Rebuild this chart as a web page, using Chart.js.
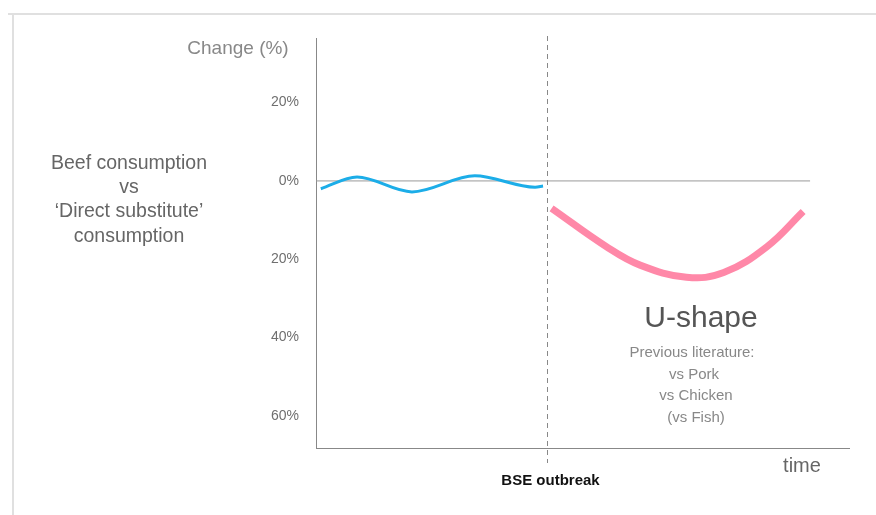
<!DOCTYPE html>
<html>
<head>
<meta charset="utf-8">
<script src="https://cdn.jsdelivr.net/npm/chart.js"></script>
<style>
  html, body { margin: 0; padding: 0; background: #fff; }
  #wrap { width: 876px; height: 515px; position: relative; }
</style>
</head>
<body>
<div id="wrap"><canvas id="myChart"></canvas></div>
<script>
// time runs 0..100 (arbitrary units), change in %
var beforeTime = [0.9, 7.7, 18.0, 29.8, 41.1, 42.6];
var beforeChange = [-2.0, 1.0, -2.8, 1.3, -1.6, -1.3];
var afterTime = [44.2, 54.5, 60.8, 69.5, 76.5, 84.6, 91.4];
var afterChange = [-7.0, -16.8, -21.5, -24.6, -23.4, -16.8, -7.8];
var zeroLineTime = [0, 92.7];
var tickValues = [20, 0, -20, -40, -60];
var bseTime = 43.3;

function pts(xs, ys) {
    return xs.map(function(x, i){ return {x: x, y: ys[i]}; });
}

var FONT = '"Liberation Sans", Arial, sans-serif';

var extras = {
    id: 'extras',
    beforeDraw: function(chart) {
        var ctx = chart.ctx;
        ctx.save();
        ctx.fillStyle = '#fff';
        ctx.fillRect(0, 0, chart.width, chart.height);
        // light frame
        ctx.strokeStyle = '#e0e0e0';
        ctx.lineWidth = 2;
        ctx.beginPath();
        ctx.moveTo(8, 14);
        ctx.lineTo(876, 14);
        ctx.moveTo(13, 14);
        ctx.lineTo(13, 515);
        ctx.stroke();
        ctx.restore();
    },
    afterDraw: function(chart) {
        var ctx = chart.ctx;
        var xs = chart.scales.x;
        var bx = Math.round(xs.getPixelForValue(bseTime)) + 0.5;
        ctx.save();
        // BSE outbreak marker
        ctx.strokeStyle = '#888';
        ctx.lineWidth = 1;
        ctx.setLineDash([5, 4]);
        ctx.beginPath();
        ctx.moveTo(bx, 36);
        ctx.lineTo(bx, 463);
        ctx.stroke();
        ctx.setLineDash([]);

        ctx.textAlign = 'center';
        ctx.textBaseline = 'middle';
        ctx.fillStyle = '#111';
        ctx.font = 'bold 15px ' + FONT;
        ctx.fillText('BSE outbreak', bx + 3, 481);

        ctx.fillStyle = '#888';
        ctx.font = '19px ' + FONT;
        ctx.fillText('Change (%)', 238, 49);

        ctx.fillStyle = '#666';
        ctx.font = '19.5px ' + FONT;
        ctx.fillText('Beef consumption', 129, 164);
        ctx.fillText('vs', 129, 188);
        ctx.fillText('\u2018Direct substitute\u2019', 129, 212);
        ctx.fillText('consumption', 129, 237);

        ctx.font = '20px ' + FONT;
        ctx.fillText('time', 802, 466);

        ctx.fillStyle = '#555';
        ctx.font = '30px ' + FONT;
        ctx.fillText('U-shape', 701, 319);

        ctx.fillStyle = '#888';
        ctx.font = '15px ' + FONT;
        ctx.fillText('Previous literature:', 692, 353);
        ctx.fillText('vs Pork', 694, 375);
        ctx.fillText('vs Chicken', 696, 396);
        ctx.fillText('(vs Fish)', 696, 418);
        ctx.restore();
    }
};

var ctx = document.getElementById('myChart').getContext('2d');
var myChart = new Chart(ctx, {
    type: 'line',
    data: {
        datasets: [{
            label: 'Before',
            data: pts(beforeTime, beforeChange),
            borderColor: '#1cade8',
            borderWidth: 3,
            cubicInterpolationMode: 'monotone',
            pointRadius: 0,
            order: 1
        }, {
            label: 'After',
            data: pts(afterTime, afterChange),
            borderColor: '#ff88a8',
            borderWidth: 7,
            borderCapStyle: 'butt',
            tension: 0.4,
            pointRadius: 0,
            order: 1
        }, {
            label: 'Zero',
            data: pts(zeroLineTime, [0, 0]),
            borderColor: '#999',
            borderWidth: 1,
            pointRadius: 0,
            order: 3
        }]
    },
    options: {
        responsive: true,
        maintainAspectRatio: false,
        animation: false,
        layout: { padding: { left: 0, top: 38, right: 27, bottom: 67 } },
        plugins: {
            legend: { display: false },
            tooltip: { enabled: false },
            title: { display: false }
        },
        scales: {
            x: {
                type: 'linear',
                min: 0,
                max: 100,
                grid: { display: false },
                border: { display: true, color: '#888', width: 1 },
                ticks: { display: false },
                afterFit: function(scale){ scale.height = 0; }
            },
            y: {
                type: 'linear',
                min: -68.2,
                max: 36.5,
                grid: { display: false, drawTicks: false },
                border: { display: true, color: '#888', width: 1 },
                afterBuildTicks: function(scale){
                    scale.ticks = tickValues.map(function(v){ return {value: v}; });
                },
                ticks: {
                    padding: 17,
                    color: '#6f6f6f',
                    font: { family: FONT, size: 14 },
                    callback: function(v){ return Math.abs(v) + '%'; }
                },
                afterFit: function(scale){ scale.width = 316; }
            }
        }
    },
    plugins: [extras]
});
</script>
</body>
</html>
